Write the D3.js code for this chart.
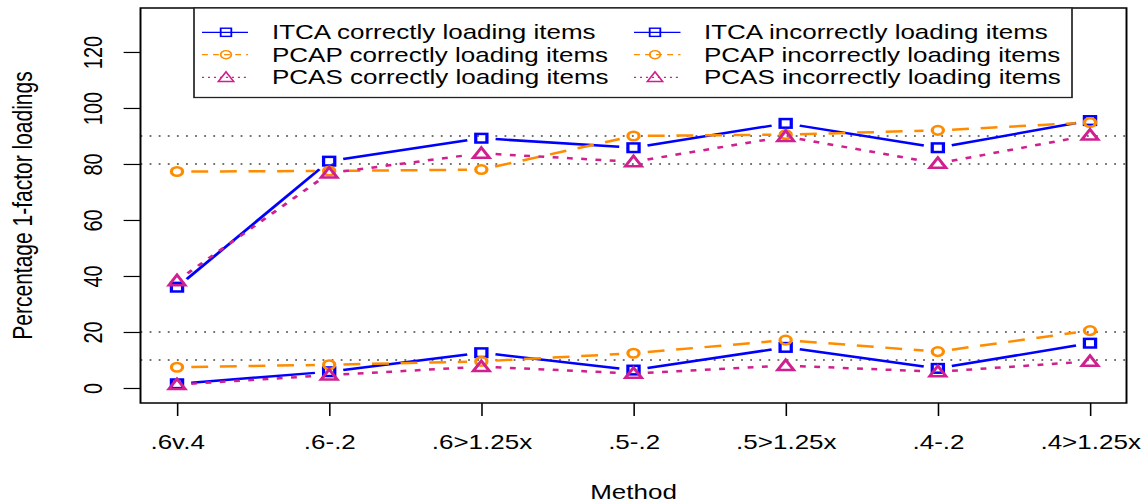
<!DOCTYPE html>
<html><head><meta charset="utf-8">
<script src="https://cdn.jsdelivr.net/npm/d3@7"></script>
<style>body{margin:0;background:#fff;} svg{display:block;}</style>
</head><body>
<div id="chart"></div>
<script>
// ---------- data ----------
const categories = [".6v.4", ".6-.2", ".6>1.25x", ".5-.2", ".5>1.25x", ".4-.2", ".4>1.25x"];
const itcaCorrect   = [36, 81, 89.2, 85.8, 94.5, 85.8, 95.5];
const pcapCorrect   = [77.3, 77.5, 78, 90, 90.5, 92, 94.8];
const pcasCorrect   = [38.3, 76.7, 83.8, 80.8, 89.8, 80.2, 90.3];
const itcaIncorrect = [1.5, 5.8, 12.6, 6.4, 14.5, 7, 16];
const pcapIncorrect = [7.4, 8.3, 9.5, 12.4, 17.1, 13, 20.5];
const pcasIncorrect = [1.2, 4.6, 7.6, 5.2, 8, 5.8, 9.5];
const yTicks = [0, 20, 40, 60, 80, 100, 120];
const refLines = [10, 20, 80, 90];
const legendLabels = [
  "ITCA correctly loading items", "PCAP correctly loading items", "PCAS correctly loading items",
  "ITCA incorrectly loading items", "PCAP incorrectly loading items", "PCAS incorrectly loading items"
];
const xTitle = "Method";
const yTitle = "Percentage 1-factor loadings";

// ---------- styles ----------
const styles = {
  ITCA: {color: "#0000ff", dash: null, legendDash: null, shape: "square"},
  PCAP: {color: "#ff8c00", dash: "13,9", legendDash: "4.5,4", shape: "circle"},
  PCAS: {color: "#d02090", dash: "4.5,6.5", legendDash: "1.6,3", shape: "triangle"}
};
const series = [
  {name: "ITCA", values: itcaCorrect},
  {name: "PCAP", values: pcapCorrect},
  {name: "PCAS", values: pcasCorrect},
  {name: "ITCA", values: itcaIncorrect},
  {name: "PCAP", values: pcapIncorrect},
  {name: "PCAS", values: pcasIncorrect}
];

// ---------- layout (picture is horizontally stretched) ----------
const SX = 1.3;
const W = 1146 / SX, H = 504;
const box = {l: 140.5 / SX, r: 1126.5 / SX, t: 8, b: 403};
const FONT = "'Liberation Sans', Arial, Helvetica, sans-serif";

const svg = d3.select("#chart").append("svg")
  .attr("width", 1146).attr("height", 504)
  .attr("viewBox", `0 0 ${W} ${H}`)
  .attr("preserveAspectRatio", "none")
  .style("font-family", FONT);

svg.append("rect").attr("width", W).attr("height", H).attr("fill", "#fff");

const x = d3.scalePoint().domain(categories).range([177 / SX, 1090 / SX]);
const y = d3.scaleLinear().domain([-5.36, 135.7]).range([403, 8]);

// reference lines
svg.append("g").selectAll("line").data(refLines).join("line")
  .attr("x1", box.l).attr("x2", box.r)
  .attr("y1", d => y(d)).attr("y2", d => y(d))
  .attr("stroke", "#444").attr("stroke-width", 1.4)
  .attr("stroke-dasharray", "1.4,5.6");

// axes
const yAxis = svg.append("g").attr("transform", `translate(${box.l},0)`)
  .call(d3.axisLeft(y).tickValues(yTicks).tickSize(13).tickFormat(d3.format("d")));
yAxis.select(".domain").remove();
yAxis.selectAll(".tick line").attr("stroke", "#000").attr("stroke-width", 1.2);
yAxis.selectAll(".tick text")
  .attr("transform", "rotate(-90)")
  .attr("x", 0).attr("y", -29.5).attr("dy", 0)
  .attr("text-anchor", "middle")
  .attr("fill", "#000")
  .style("font-size", "20px").style("font-family", FONT);

const xAxis = svg.append("g").attr("transform", `translate(0,${box.b})`)
  .call(d3.axisBottom(x).tickSize(13));
xAxis.select(".domain").remove();
xAxis.selectAll(".tick line").attr("stroke", "#000").attr("stroke-width", 1.2);
xAxis.selectAll(".tick text")
  .attr("y", 46.5).attr("dy", 0)
  .attr("fill", "#000")
  .style("font-size", "20px").style("font-family", FONT);

// titles
svg.append("text").text(xTitle)
  .attr("x", (box.l + box.r) / 2).attr("y", 499)
  .attr("text-anchor", "middle").style("font-size", "20px");
svg.append("text").text(yTitle)
  .attr("transform", `translate(${32 / SX},${(box.t + box.b) / 2}) rotate(-90)`)
  .attr("text-anchor", "middle").style("font-size", "21px");

// markers
function drawMarker(g, shape, cx, cy, color, sw, s) {
  if (shape === "square") {
    g.append("rect").attr("x", cx - 4.3 * s).attr("y", cy - 4.3 * s)
      .attr("width", 8.6 * s).attr("height", 8.6 * s)
      .attr("fill", "none").attr("stroke", color).attr("stroke-width", sw);
  } else if (shape === "circle") {
    g.append("circle").attr("cx", cx).attr("cy", cy).attr("r", 4.3 * s)
      .attr("fill", "none").attr("stroke", color).attr("stroke-width", sw);
  } else {
    const p = [[cx, cy - 5.8 * s], [cx + 6.2 * s, cy + 4.4 * s], [cx - 6.2 * s, cy + 4.4 * s]];
    g.append("path").attr("d", "M" + p.map(q => q.join(",")).join("L") + "Z")
      .attr("fill", "none").attr("stroke", color).attr("stroke-width", sw)
      .attr("stroke-linejoin", "miter");
  }
}

// series (type = "b": lines with gaps around points)
const GAP = 11;
series.forEach(sr => {
  const st = styles[sr.name];
  const g = svg.append("g");
  const pts = sr.values.map((v, i) => [x(categories[i]), y(v)]);
  for (let i = 0; i < pts.length - 1; i++) {
    const [x1, y1] = pts[i], [x2, y2] = pts[i + 1];
    const dx = x2 - x1, dy = y2 - y1, len = Math.hypot(dx, dy);
    if (len <= 2 * GAP) continue;
    const ux = dx / len, uy = dy / len;
    g.append("line")
      .attr("x1", x1 + ux * GAP).attr("y1", y1 + uy * GAP)
      .attr("x2", x2 - ux * GAP).attr("y2", y2 - uy * GAP)
      .attr("stroke", st.color).attr("stroke-width", 2.5)
      .attr("stroke-dasharray", st.dash);
  }
  pts.forEach(p => drawMarker(g, st.shape, p[0], p[1], st.color, 2.5, 1));
});

// plot box
svg.append("rect").attr("x", box.l).attr("y", box.t)
  .attr("width", box.r - box.l).attr("height", box.b - box.t)
  .attr("fill", "none").attr("stroke", "#000").attr("stroke-width", 1.5);

// legend
const leg = svg.append("g");
leg.append("rect").attr("x", 194 / SX).attr("y", box.t)
  .attr("width", (1072 - 194) / SX).attr("height", 97.5 - box.t)
  .attr("fill", "#fff").attr("stroke", "#222").attr("stroke-width", 1.3);
const legCols = [
  {l1: 202 / SX, l2: 248 / SX, sym: 226 / SX, tx: 272 / SX},
  {l1: 634 / SX, l2: 680.5 / SX, sym: 655 / SX, tx: 704 / SX}
];
const legRows = [32.3, 54.7, 77.3];
legendLabels.forEach((lab, i) => {
  const col = legCols[Math.floor(i / 3)], cy = legRows[i % 3];
  const st = styles[series[i].name];
  leg.append("line").attr("x1", col.l1).attr("x2", col.l2).attr("y1", cy).attr("y2", cy)
    .attr("stroke", st.color).attr("stroke-width", 1.3).attr("stroke-dasharray", st.legendDash);
  drawMarker(leg, st.shape, col.sym, cy, st.color, 1.4, 0.95);
  leg.append("text").text(lab).attr("x", col.tx).attr("y", cy + 7)
    .attr("fill", "#000").style("font-size", "20px");
});
</script>
</body></html>
